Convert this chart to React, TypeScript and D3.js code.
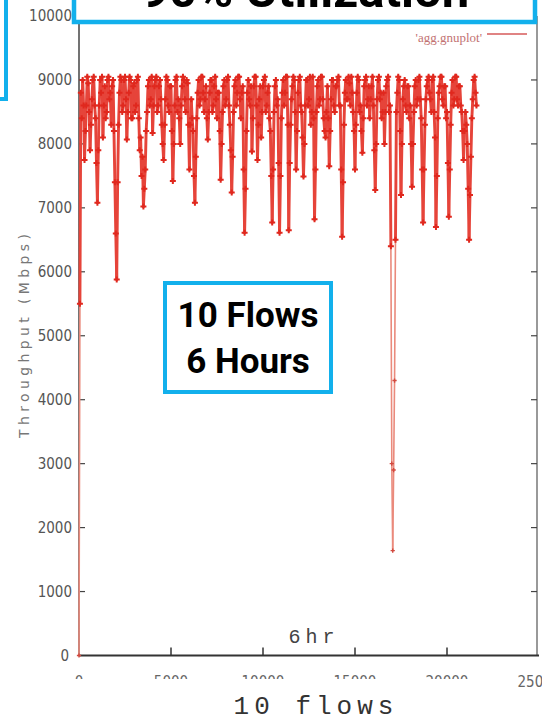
import React, { useEffect, useRef } from "react";
import * as d3 from "d3";

// aggregate throughput (Mbps), one sample every 50 s over the 6 hour run
const sampleStep = 50;
const throughput: number[] = [
  0, 5500, 8800, 8400, 9000, 8600, 7750, 8200, 8600, 9050, 8950, 8500, 7900, 8300, 8700, 9000, 9050, 8600, 8400, 7700,
  7080, 7900, 8600, 9000, 8800, 9050, 8100, 8600, 8900, 8400, 8500, 9000, 9050, 8700, 8800, 8300, 8900, 9000, 8200, 7400,
  6600, 5880, 7400, 8300, 8800, 9050, 9000, 8500, 8600, 9000, 9050, 8700, 8070, 8500, 8800, 9050, 9000, 8400, 8400, 8900,
  8950, 8500, 8600, 9000, 9050, 8400, 7900, 8100, 7500, 7800, 7020, 7300, 7600, 8200, 8500, 8900, 9000, 8600, 8700, 9050,
  8170, 8600, 8900, 9000, 9050, 8500, 8600, 8900, 9000, 8700, 8300, 8000, 7750, 8300, 8700, 9050, 9000, 8600, 8500, 8900,
  8900, 8200, 7420, 8000, 8600, 9000, 9050, 8500, 8700, 8400, 8000, 8600, 8900, 9050, 9000, 8700, 8500, 9000, 8950, 8300,
  7600, 8300, 8700, 8400, 8200, 7500, 7080, 7800, 8400, 8800, 9000, 8600, 8700, 9050, 9050, 8800, 8500, 8700, 8900, 8400,
  8070, 8500, 8800, 9000, 9000, 8500, 8600, 8900, 9050, 8700, 8400, 8800, 8800, 8200, 7440, 8000, 8500, 8900, 9000, 8600,
  8700, 9000, 9050, 8600, 8300, 7900, 7240, 7800, 8500, 8900, 9000, 8600, 8800, 9050, 9050, 8700, 8400, 8800, 8900, 7600,
  6610, 7300, 8200, 8800, 9000, 8700, 8600, 8900, 7880, 8400, 8900, 9050, 9050, 8600, 7750, 8300, 8700, 8900, 8100, 8500,
  8900, 9000, 9050, 8500, 8600, 8800, 8900, 8400, 8200, 7500, 6770, 7600, 8500, 8900, 9000, 8600, 8700, 7700, 6610, 7500,
  8400, 8800, 9000, 8600, 8800, 9050, 9050, 8300, 6650, 7700, 8300, 8700, 8900, 9050, 9000, 8500, 7600, 8200, 8800, 9000,
  9050, 8600, 8500, 8100, 7490, 8000, 8600, 9000, 9000, 8600, 8700, 9050, 8300, 8500, 9050, 8400, 6820, 7600, 8500, 8900,
  9000, 8600, 8700, 9050, 9050, 8700, 8400, 8200, 8100, 8500, 8900, 8400, 7650, 8200, 8700, 9000, 9000, 8600, 8500, 8900,
  8900, 9000, 9050, 8600, 8600, 7600, 6550, 7400, 8300, 8800, 9000, 8700, 8700, 9050, 8950, 8600, 9050, 8800, 8500, 8200,
  7600, 8300, 8800, 9050, 9000, 8500, 8600, 8200, 7860, 8400, 8900, 9000, 9050, 8600, 8700, 8900, 8400, 8700, 8900, 9050,
  8600, 7900, 7280, 8000, 8700, 9000, 9050, 8700, 8800, 8400, 8500, 8800, 8000, 8500, 8900, 9000, 9050, 8500, 8600, 6400,
  3000, 1640, 2900, 4300, 6500, 8500, 8800, 9050, 9000, 8200, 7200, 8000, 8700, 8900, 9000, 8600, 8500, 8900, 8900, 8400,
  8600, 8000, 7330, 8000, 8500, 8900, 9000, 8600, 8700, 9000, 9050, 8700, 8400, 7600, 6770, 7600, 8300, 8700, 8900, 9000,
  9050, 8800, 8700, 8500, 9000, 9050, 8500, 8100, 6700, 7500, 8400, 8800, 8900, 9050, 9050, 8700, 8600, 8900, 8900, 8400,
  8500, 7700, 6860, 7600, 8300, 8800, 9000, 8600, 8700, 9050, 9050, 8700, 8600, 8900, 8900, 8600, 8500, 8200, 7750, 8200,
  8500, 8300, 8000, 7300, 6500, 7200, 7800, 8400, 8700, 9000, 9050, 8800, 8600,
];

const xTicks = [0, 5000, 10000, 15000, 20000, 25000];
const yTicks = [0, 1000, 2000, 3000, 4000, 5000, 6000, 7000, 8000, 9000, 10000];

const title = "90% Utilization";
const boxLines = ["10 Flows", "6 Hours"];
const yTitle = "Throughput (Mbps)";
const xTitle = "10 flows";
const note = "6hr";
const legendLabel = "'agg.gnuplot'";

const App = () => {
  const svgRef = useRef<SVGSVGElement>(null);

  useEffect(() => {
    const width = 542;
    const height = 720;
    const left = 79;
    const right = 539;
    const top = 16;
    const bottom = 655.5;

    const svg = d3.select(svgRef.current);
    svg.selectAll("*").remove();
    svg.attr("width", width).attr("height", height);

    svg.append("rect").attr("width", width).attr("height", height).attr("fill", "#fff");

    const x = d3.scaleLinear().domain([0, 25000]).range([left, right]);
    const y = d3.scaleLinear().domain([0, 10000]).range([bottom, top]);

    const tickFont = "'Liberation Sans Narrow', 'DejaVu Sans Condensed', 'Liberation Sans', sans-serif";

    // frame
    svg.append("line").attr("x1", x(25000) - 2).attr("x2", x(25000) - 2)
      .attr("y1", y(10000)).attr("y2", y(0)).attr("stroke", "#555").attr("stroke-width", 1.2);
    svg.append("line").attr("x1", left).attr("x2", left)
      .attr("y1", y(10000)).attr("y2", y(0)).attr("stroke", "#444").attr("stroke-width", 1.5);
    svg.append("line").attr("x1", left).attr("x2", x(25000))
      .attr("y1", bottom).attr("y2", bottom).attr("stroke", "#333").attr("stroke-width", 1.8);

    // y ticks + labels
    const yt = svg.append("g");
    yt.selectAll("line.l").data(yTicks.slice(1)).join("line")
      .attr("x1", left).attr("x2", left + 6)
      .attr("y1", (d) => y(d)).attr("y2", (d) => y(d))
      .attr("stroke", "#444").attr("stroke-width", 1.2);
    yt.selectAll("line.r").data(yTicks.slice(1)).join("line")
      .attr("x1", x(25000) - 2).attr("x2", x(25000) - 8)
      .attr("y1", (d) => y(d)).attr("y2", (d) => y(d))
      .attr("stroke", "#444").attr("stroke-width", 1.2);
    yt.selectAll("text").data(yTicks).join("text")
      .attr("x", (d) => (d === 0 ? left - 10 : left - 7))
      .attr("y", (d) => y(d) + 5)
      .attr("text-anchor", "end")
      .attr("font-family", tickFont)
      .attr("font-size", 15)
      .attr("fill", "#555")
      .text((d) => d);

    // x ticks + labels (photo cuts the lower half of most labels)
    svg.append("defs").append("clipPath").attr("id", "xlabclip")
      .append("rect").attr("x", 0).attr("y", 660).attr("width", 495).attr("height", 19);
    const xt = svg.append("g");
    xt.selectAll("line").data(xTicks.slice(1, -1)).join("line")
      .attr("x1", (d) => x(d)).attr("x2", (d) => x(d))
      .attr("y1", bottom).attr("y2", bottom - 8)
      .attr("stroke", "#333").attr("stroke-width", 1.5);
    xt.selectAll("text").data(xTicks).join("text")
      .attr("x", (d) => x(d))
      .attr("y", 687)
      .attr("text-anchor", "middle")
      .attr("font-family", tickFont)
      .attr("font-size", 15)
      .attr("fill", "#666")
      .attr("clip-path", (d) => (d === 25000 ? null : "url(#xlabclip)"))
      .text((d) => d);

    // series: dense part in saturated red, long isolated drops thin and pale
    const series: [number, number][] = throughput.map((v, i) => [i * sampleStep, v]);
    const isDrop = (a: [number, number], b: [number, number]) => Math.min(a[1], b[1]) < 5000;
    svg.append("g").selectAll("line").data(d3.pairs(series)).join("line")
      .attr("x1", (d) => x(d[0][0])).attr("y1", (d) => y(d[0][1]))
      .attr("x2", (d) => x(d[1][0])).attr("y2", (d) => y(d[1][1]))
      .attr("stroke", (d) => (isDrop(d[0], d[1]) ? "#ea8a7c" : "#e6443a"))
      .attr("stroke-width", (d) => (isDrop(d[0], d[1]) ? 1.6 : 2.9))
      .attr("stroke-linecap", "round");
    svg.append("g").selectAll("path").data(series).join("path")
      .attr("transform", (d) => `translate(${x(d[0])},${y(d[1])})`)
      .attr("d", (d) => d3.symbol(d3.symbolCross, d[1] < 5000 ? 10 : 20)())
      .attr("fill", (d) => (d[1] < 5000 ? "#d2493e" : "#e0281e"));

    // legend
    svg.append("text")
      .attr("x", 482).attr("y", 42)
      .attr("text-anchor", "end")
      .attr("font-family", "'Liberation Serif', serif")
      .attr("font-size", 13)
      .attr("fill", "#c27272")
      .text(legendLabel);
    svg.append("line").attr("x1", 487).attr("x2", 527).attr("y1", 34).attr("y2", 34)
      .attr("stroke", "#d65a5a").attr("stroke-width", 1.5);

    // annotations
    svg.append("text")
      .attr("x", 314).attr("y", 643)
      .attr("text-anchor", "middle")
      .attr("font-family", "'Liberation Mono', monospace")
      .attr("font-size", 20)
      .attr("letter-spacing", 5)
      .attr("fill", "#444")
      .text(note);
    svg.append("text")
      .attr("x", 316).attr("y", 714)
      .attr("text-anchor", "middle")
      .attr("font-family", "'Liberation Mono', monospace")
      .attr("font-size", 26)
      .attr("letter-spacing", 5)
      .attr("fill", "#333")
      .text(xTitle);
    svg.append("text")
      .attr("transform", "translate(29,336) rotate(-90)")
      .attr("text-anchor", "middle")
      .attr("font-family", "'DejaVu Sans', sans-serif")
      .attr("font-size", 14)
      .attr("fill", "#777")
      .attr("textLength", 204)
      .attr("lengthAdjust", "spacing")
      .text(yTitle);

    // callout boxes
    const blue = "#12b0ec";
    svg.append("rect")
      .attr("x", -60).attr("y", -60).attr("width", 66).attr("height", 159)
      .attr("fill", "none").attr("stroke", blue).attr("stroke-width", 4);
    svg.append("rect")
      .attr("x", 74).attr("y", -60).attr("width", 461).attr("height", 82)
      .attr("fill", "#fff").attr("stroke", blue).attr("stroke-width", 4.5);
    svg.append("text")
      .attr("x", 305).attr("y", 7)
      .attr("text-anchor", "middle")
      .attr("font-family", "Roboto, sans-serif")
      .attr("font-weight", 700)
      .attr("font-size", 49)
      .attr("fill", "#000")
      .text(title);

    svg.append("rect")
      .attr("x", 165).attr("y", 283).attr("width", 166).attr("height", 109)
      .attr("fill", "#fff").attr("stroke", blue).attr("stroke-width", 4);
    svg.append("g").selectAll("text").data(boxLines).join("text")
      .attr("x", 248)
      .attr("y", (d, i) => 327 + i * 45.5)
      .attr("text-anchor", "middle")
      .attr("font-family", "Roboto, sans-serif")
      .attr("font-weight", 700)
      .attr("font-size", 35)
      .attr("fill", "#000")
      .text((d) => d);
  }, []);

  return <svg ref={svgRef} style={{ position: "absolute", left: 0, top: 0 }}></svg>;
};

export default App;
